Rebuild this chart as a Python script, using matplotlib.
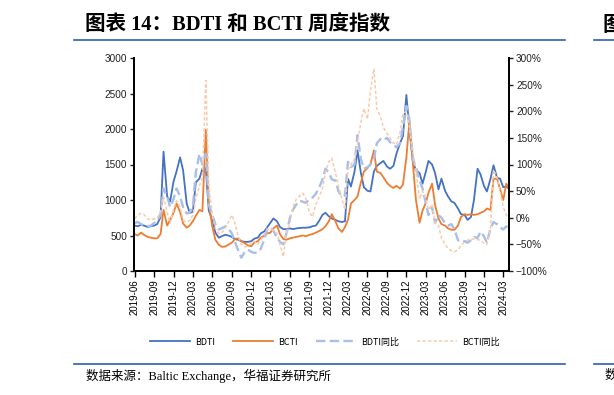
import matplotlib
matplotlib.use('Agg')
import matplotlib.pyplot as plt
import matplotlib.dates as mdates
from matplotlib.ticker import FuncFormatter, MultipleLocator
from matplotlib.lines import Line2D
import pandas as pd

# semi-monthly sampling of the weekly index, 2019-06 .. 2024-04
dates = pd.date_range('2019-06-01', periods=117, freq='SMS')

bdti = [640, 630, 650, 640, 620, 630, 640, 660, 760, 1680,
        1050, 980, 1260, 1400, 1600, 1420, 950, 820, 830, 1250,
        1300, 1440, 1450, 850, 720, 540, 470, 490, 510, 500,
        480, 450, 440, 420, 410, 410, 420, 455, 470, 530,
        560, 620, 680, 740, 700, 620, 590, 590, 600, 590,
        600, 605, 610, 610, 615, 630, 640, 700, 790, 820,
        770, 740, 720, 700, 690, 700, 1300, 1190, 1400, 1700,
        1380, 1180, 1130, 1120, 1400, 1480, 1520, 1550, 1470, 1440,
        1480, 1650, 1800, 1900, 2480, 2000, 1530, 1420, 1380, 1230,
        1380, 1550, 1500, 1380, 1150, 1300, 1130, 1050, 980, 960,
        880, 800, 790, 720, 760, 1000, 1440, 1360, 1200, 1120,
        1300, 1490, 1310, 1300, 1180, 1190, 1150]

bcti = [520, 500, 540, 510, 480, 470, 460, 460, 520, 860,
        640, 720, 820, 950, 830, 670, 610, 640, 700, 780,
        860, 840, 1990, 950, 620, 440, 370, 340, 345, 370,
        400, 450, 460, 420, 390, 360, 350, 400, 420, 470,
        500, 530, 540, 600, 640, 520, 450, 440, 460, 470,
        480, 490, 500, 490, 510, 520, 540, 560, 590, 630,
        700, 800, 700, 600, 550, 620, 720, 950, 1000, 1050,
        1250, 1400, 1450, 1500, 1700, 1400, 1380, 1320, 1240, 1200,
        1170, 1200, 1160, 1220, 1600, 2100, 1500, 1000, 680, 850,
        950, 1100, 1230, 930, 740, 660, 640, 600, 580, 580,
        640, 760, 800, 790, 800, 790, 800, 820, 840, 880,
        860, 1300, 1300, 1150, 1000, 1230, 1150]

# year-on-year change, %
bdti_yoy = [-10, -8, -12, -14, -16, -15, -10, -5, 5, 55,
            40, 20, 35, 55, 40, 20, 8, 10, 20, 85,
            120, 100, 120, 25, 5, -12, -22, -20, -16, -20,
            -30, -45, -62, -75, -64, -60, -64, -66, -65, -58,
            -40, -20, -18, -24, -38, -45, -50, -30, 0, 15,
            25, 32, 30, 28, 35, 38, 45, 55, 72, 92,
            85, 72, 70, 50, 40, 42, 105, 95, 100, 155,
            110, 92, 95, 100, 110, 140, 148, 145, 150, 142,
            138, 132, 140, 170, 210, 185, 110, 95, 70, 55,
            30, 5, 20, -10, 5, 0, -10, -15, -12, -22,
            -42, -46, -44, -47, -42, -36, -38, -26, -35, -47,
            -20, -8, -12, -18, -22, -16, -24]

bcti_yoy = [-2, 5, 8, 6, -2, -4, -2, 0, 10, 40,
            10, -10, 15, 32, 20, -5, -8, -5, 5, 35,
            60, 75, 258, 60, 5, -20, -30, -28, -20, -8,
            5, -10, -35, -50, -55, -52, -48, -44, -50, -42,
            -30, -22, -20, -24, -30, -50, -73, -30, -10, 20,
            35, 40, 46, 35, 10, 2, 25, 38, 55, 85,
            105, 112, 85, 60, 35, 15, 90, 100, 110, 140,
            180, 205, 185, 240, 280, 205, 190, 170, 158, 150,
            140, 137, 160, 196, 200, 172, 121, 90, 35, 50,
            38, 15, 25, -10, -15, -38, -50, -58, -62, -64,
            -60, -52, -46, -42, -40, -40, -41, -42, -48, -50,
            -20, 90, 75, 50, 20, 5, 0]

labels = ['BDTI', 'BCTI', 'BDTI同比', 'BCTI同比']
colors = ['#4472C4', '#ED7D31', '#A9BFE8', '#F8CBAD']

W, H = 614, 395
fig = plt.figure(figsize=(W / 100, H / 100), dpi=100)

ax = fig.add_axes([134 / W, 1 - 271 / H, 375 / W, 213 / H])
ax2 = ax.twinx()

ax.plot(dates, bdti, color=colors[0], lw=1.3)
ax.plot(dates, bcti, color=colors[1], lw=1.3)
ax2.plot(dates, bdti_yoy, color=colors[2], lw=1.7, dashes=(4, 1.8))
ax2.plot(dates, bcti_yoy, color=colors[3], lw=1.1, dashes=(2.2, 1.4))

ax.set_ylim(0, 3000)
ax.yaxis.set_major_locator(MultipleLocator(500))
ax2.set_ylim(-100, 300)
ax2.yaxis.set_major_locator(MultipleLocator(50))
ax2.yaxis.set_major_formatter(FuncFormatter(lambda v, p: f'{v:.0f}%'.replace('-', '\u2212')))

ax.set_xlim(pd.Timestamp('2019-05-29'), pd.Timestamp('2024-03-28'))
ax.xaxis.set_major_locator(mdates.MonthLocator(bymonth=[3, 6, 9, 12]))
ax.xaxis.set_major_formatter(mdates.DateFormatter('%Y-%m'))

tick_font = 'Liberation Sans'
for a in (ax, ax2):
    for side in ('left', 'right', 'bottom'):
        a.spines[side].set_linewidth(1.3)
    a.spines['top'].set_visible(False)
    a.tick_params(axis='y', length=3, width=1, labelsize=7.2, pad=2, colors='#222222')
    for t in a.get_yticklabels():
        t.set_fontfamily(tick_font)
ax.tick_params(axis='x', length=4, width=1, labelsize=7, rotation=90, pad=2)
for t in ax.get_xticklabels():
    t.set_fontfamily(tick_font)

# legend
handles = [Line2D([], [], color=colors[0], lw=1.3),
           Line2D([], [], color=colors[1], lw=1.3),
           Line2D([], [], color=colors[2], lw=1.7, dashes=(4, 1.8)),
           Line2D([], [], color=colors[3], lw=1.1, dashes=(2.2, 1.4))]
fig.legend(handles, labels, loc='center', bbox_to_anchor=(325 / W, 1 - 342 / H),
           ncol=4, frameon=False, handlelength=4.4, handletextpad=0.6,
           columnspacing=2.0, prop={'family': ['Noto Sans CJK SC', 'DejaVu Sans'], 'size': 6.5})

# page decorations (the next chart's title and source peek in at the right edge)
title_font = ['Liberation Serif', 'Noto Sans CJK SC']
fig.text(85 / W, 1 - 26 / H, '图表 14：BDTI 和 BCTI 周度指数', fontsize=14.8, fontweight='bold',
         family=title_font, va='center', ha='left')
fig.text(603 / W, 1 - 26 / H, '图表 15', fontsize=14.8, fontweight='bold',
         family=title_font, va='center', ha='left')
line_color = '#2F5FB3'
fig.add_artist(Line2D([74 / W, 565 / W], [1 - 40 / H] * 2, color=line_color, lw=1.2))
fig.add_artist(Line2D([594 / W, 1.0], [1 - 40 / H] * 2, color=line_color, lw=1.2))
fig.add_artist(Line2D([74 / W, 565 / W], [1 - 364 / H] * 2, color=line_color, lw=1.2))
fig.add_artist(Line2D([594 / W, 1.0], [1 - 364 / H] * 2, color=line_color, lw=1.2))
fig.text(86 / W, 1 - 376 / H, '数据来源：Baltic Exchange，华福证券研究所', fontsize=9,
         family=title_font, va='center', ha='left')
fig.text(605 / W, 1 - 376 / H, '数据来源', fontsize=9,
         family=title_font, va='center', ha='left')

fig.savefig('out.png', dpi=100)
